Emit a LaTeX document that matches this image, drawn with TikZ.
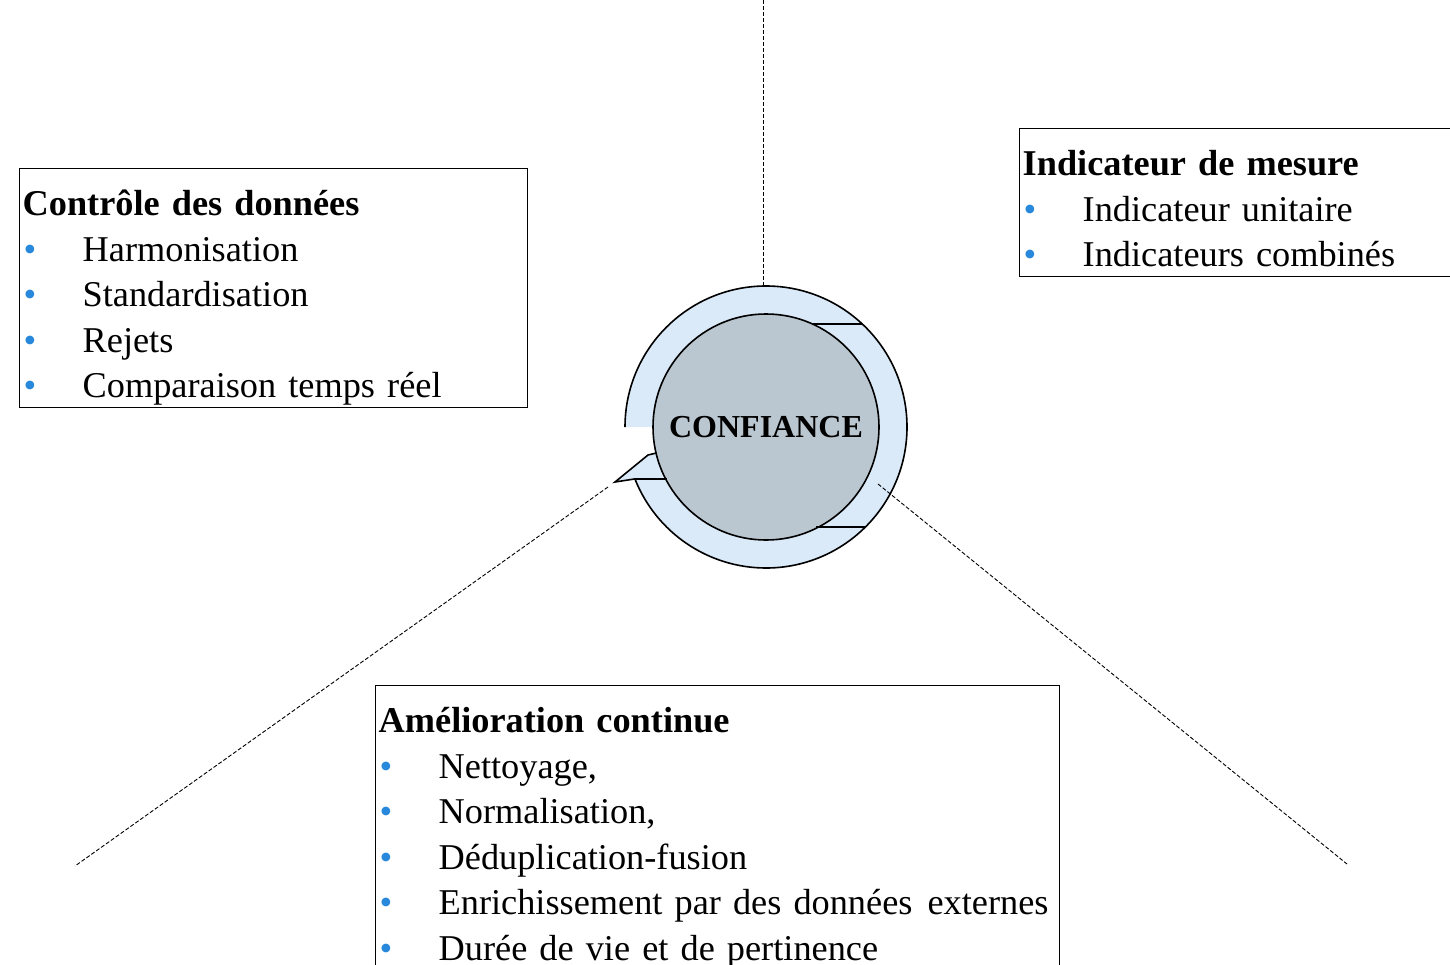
\documentclass[tikz,border=0pt]{standalone}
\usepackage{fontspec}
\setmainfont{Liberation Serif}
\definecolor{ringblue}{RGB}{219,234,248}
\definecolor{coregray}{RGB}{186,199,208}
\definecolor{bullblue}{RGB}{40,136,220}
% first line of a box, and one line of a list with its blue bullet
\newcommand{\hstrut}{\rule[-9.5pt]{0pt}{56.5pt}}
\newcommand{\lstrut}{\rule[-9.5pt]{0pt}{45.5pt}}
\newcommand{\itm}{\lstrut\makebox[60pt][l]{\hspace{1pt}\textcolor{bullblue}{\textbullet}}}
\tikzset{
  listbox/.style={draw, line width=1.4pt, anchor=north west, align=left,
    inner xsep=3pt, inner ysep=0pt,
    font=\fontsize{36.3}{45.5}\selectfont},
  guide/.style={line width=0.9pt, dash pattern=on 4pt off 2pt},
  seam/.style={line width=1.6pt}
}
\begin{document}
\begin{tikzpicture}[x=1pt,y=-1pt]
    \useasboundingbox (0,0) rectangle (1450,964);
    \coordinate (c) at (766,427);
    % the ring round the centre
    \draw[fill=ringblue, line width=1.6pt] (c) ++(180:141)
      arc[start angle=180, end angle=518.4, radius=141]
      -- (615,482) -- (648,455) -- (c) ++(525:112)
      arc[start angle=525, end angle=180, radius=112] -- cycle;
    \node[circle, draw, line width=1.6pt, fill=coregray, minimum size=226pt,
      font=\fontsize{32}{32}\selectfont\bfseries] (conf) at (c) {CONFIANCE};
    \draw[seam] (635,479) -- (667,479);
    \draw[seam] (812,324) -- (862,324);
    \draw[seam] (816,527) -- (865,527);
    % the three guides
    \coordinate (topend) at (763,0);
    \coordinate (ringtop) at (763,285);
    \coordinate (arrowtip) at (608,487);
    \coordinate (leftend) at (75,866);
    \coordinate (ringright) at (878,484);
    \coordinate (rightend) at (1347,864);
    \draw[guide] (topend) -- (ringtop);
    \draw[guide] (arrowtip) -- (leftend);
    \draw[guide] (ringright) -- (rightend);
    % the boxes
    \node[listbox, text width=502pt] (controle) at (19,168)
      {\hstrut\textbf{Contrôle des données}\\
       \itm Harmonisation\\
       \itm Standardisation\\
       \itm Rejets\\
       \itm Comparaison temps réel};
    \node[listbox, text width=440pt] (mesure) at (1019,128)
      {\hstrut\textbf{Indicateur de mesure}\\
       \itm Indicateur unitaire\\
       \itm Indicateurs combinés};
    \node[listbox, text width=678pt] (amelio) at (375,685)
      {\hstrut\textbf{Amélioration continue}\\
       \itm Nettoyage,\\
       \itm Normalisation,\\
       \itm Déduplication-fusion\\
       \itm \mbox{Enrichissement par des données\ \hspace{3pt}externes}\\
       \itm Durée de vie et de pertinence};
\end{tikzpicture}
\end{document}
